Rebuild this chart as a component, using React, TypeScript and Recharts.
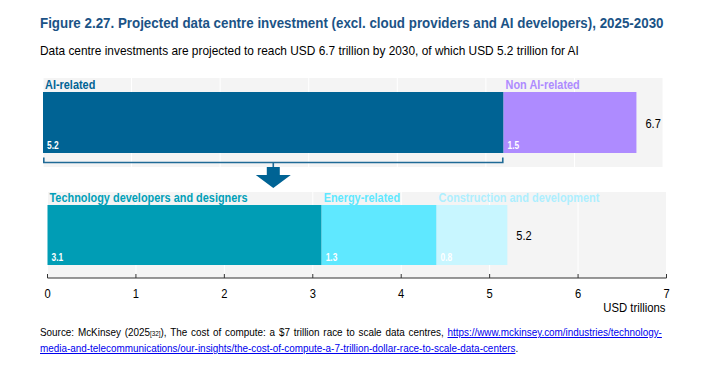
import React from "react";
import { Bar, BarChart, CartesianGrid, XAxis, YAxis } from "recharts";

const xTicks = [0, 1, 2, 3, 4, 5, 6, 7];

const upperSegments = ["AI-related", "Non AI-related"];
const upperKeys = ["ai", "nonAi"];
const upperValues = [5.2, 1.5];
const upperColors = ["#006394", "#ae8bff"];
const upperTotal = 6.7;

const lowerSegments = ["Technology developers and designers", "Energy-related", "Construction and development"];
const lowerKeys = ["tech", "energy", "construction"];
const lowerValues = [3.1, 1.3, 0.8];
const lowerColors = ["#009db5", "#5fe8ff", "#c8f6ff"];
const lowerLabelColors = ["#00a0b8", "#5fe8ff", "#aeefff"];
const lowerTotal = 5.2;

const FONT = '"Liberation Sans", Arial, sans-serif';
const NARROW = 0.84; // Arial Narrow look, squeezed Liberation Sans

const upperRow: Record<string, number | string> = { name: "total" };
upperKeys.forEach((k, i) => (upperRow[k] = upperValues[i]));
const lowerRow: Record<string, number | string> = { name: "ai" };
lowerKeys.forEach((k, i) => (lowerRow[k] = lowerValues[i]));

function NText({ x, y, s = NARROW, anchor = "start", children, ...rest }: any) {
  return (
    <text transform={`translate(${x},${y}) scale(${s},1)`} x={0} y={0} textAnchor={anchor} fontFamily={FONT} {...rest}>
      {children}
    </text>
  );
}

// bracket under the AI-related bar plus the arrow pointing to the breakdown
function Bracket({ x, y, width, height }: any) {
  const by = y + height + 9.5;
  const mid = x + width / 2;
  const c = "#1f6a96";
  return (
    <g>
      <path
        d={`M${x + 0.8},${by - 5} L${x + 0.8},${by} L${x + width - 0.8},${by} L${x + width - 0.8},${by - 5}`}
        fill="none"
        stroke={c}
        strokeWidth={1.6}
      />
      <line x1={mid} y1={by} x2={mid} y2={by + 5} stroke={c} strokeWidth={1.6} />
      <path
        d={`M${mid - 6.5},${by + 4.5} L${mid + 6.5},${by + 4.5} L${mid + 6.5},${by + 12.5} L${mid + 17.5},${by + 12.5} L${mid},${by + 25.5} L${mid - 17.5},${by + 12.5} L${mid - 6.5},${by + 12.5} Z`}
        fill="#006394"
      />
    </g>
  );
}

function segmentLabel(name: string, color: string, value: number, total?: number, bracket?: boolean) {
  return (props: any) => {
    const { x, y, width, height } = props;
    return (
      <g>
        <NText x={x + 2} y={y - 3} fill={color} fontSize={13} fontWeight="bold">
          {name}
        </NText>
        <NText x={x + 4} y={y + height - 4} fill="#ffffff" fontSize={10.5} fontWeight="bold" s={0.8}>
          {value}
        </NText>
        {total !== undefined && (
          <NText x={x + width + 9} y={y + height / 2 + 5} fill="#000" fontSize={13.5} s={0.82}>
            {total}
          </NText>
        )}
        {bracket && <Bracket x={x} y={y} width={width} height={height} />}
      </g>
    );
  };
}

function AxisTick(props: any) {
  const { x, y, payload } = props;
  return (
    <g>
      <line x1={x} y1={y - 4} x2={x} y2={y} stroke="#333" strokeWidth={1} />
      <NText x={x} y={y + 20} anchor="middle" fill="#000" fontSize={13} s={0.86}>
        {payload.value}
      </NText>
    </g>
  );
}

export default function App() {
  return (
    <div style={{ position: "absolute", left: 0, top: 0, width: 712, height: 371, background: "#fff", fontFamily: FONT }}>
      <div
        style={{
          position: "absolute",
          left: 40,
          top: 14,
          fontSize: 15,
          fontWeight: "bold",
          color: "#1b5386",
          whiteSpace: "nowrap",
          transform: "scaleX(0.89)",
          transformOrigin: "0 0",
        }}
      >
        Figure 2.27. Projected data centre investment (excl. cloud providers and AI developers), 2025-2030
      </div>
      <div
        style={{
          position: "absolute",
          left: 40,
          top: 43,
          fontSize: 13.5,
          color: "#000",
          whiteSpace: "nowrap",
          transform: "scaleX(0.88)",
          transformOrigin: "0 0",
        }}
      >
        Data centre investments are projected to reach USD 6.7 trillion by 2030, of which USD 5.2 trillion for AI
      </div>

      <div style={{ position: "absolute", left: 0, top: 70 }}>
        <BarChart
          width={712}
          height={122}
          data={[upperRow]}
          layout="vertical"
          margin={{ top: 8, right: 49, left: 43, bottom: 25 }}
        >
          <CartesianGrid horizontal={false} stroke="#ffffff" fill="#f4f4f4" />
          <XAxis type="number" domain={[0, 7]} ticks={xTicks} hide />
          <YAxis type="category" dataKey="name" hide />
          {upperKeys.map((k, i) => (
            <Bar
              key={k}
              dataKey={k}
              stackId="a"
              fill={upperColors[i]}
              barSize={61}
              isAnimationActive={false}
              label={segmentLabel(
                upperSegments[i],
                upperColors[i],
                upperValues[i],
                i === upperKeys.length - 1 ? upperTotal : undefined,
                i === 0
              )}
            />
          ))}
        </BarChart>
      </div>

      <div style={{ position: "absolute", left: 0, top: 185 }}>
        <BarChart
          width={712}
          height={125}
          data={[lowerRow]}
          layout="vertical"
          margin={{ top: 7, right: 45.5, left: 47.5, bottom: 2 }}
        >
          <CartesianGrid horizontal={false} stroke="#ffffff" fill="#f4f4f4" />
          <XAxis
            type="number"
            domain={[0, 7]}
            ticks={xTicks}
            height={30}
            tickSize={0}
            tickMargin={0}
            tick={<AxisTick />}
            axisLine={{ stroke: "#333", strokeWidth: 1.2 }}
          />
          <YAxis type="category" dataKey="name" hide />
          {lowerKeys.map((k, i) => (
            <Bar
              key={k}
              dataKey={k}
              stackId="a"
              fill={lowerColors[i]}
              barSize={60}
              isAnimationActive={false}
              label={segmentLabel(lowerSegments[i], lowerLabelColors[i], lowerValues[i], i === lowerKeys.length - 1 ? lowerTotal : undefined)}
            />
          ))}
        </BarChart>
      </div>

      <div
        style={{
          position: "absolute",
          right: 46,
          top: 300,
          fontSize: 13,
          color: "#000",
          whiteSpace: "nowrap",
          transform: "scaleX(0.87)",
          transformOrigin: "100% 0",
        }}
      >
        USD trillions
      </div>

      <div
        style={{
          position: "absolute",
          left: 40,
          top: 325,
          width: 691,
          fontSize: 11,
          lineHeight: "15px",
          color: "#000",
          transform: "scaleX(0.9)",
          transformOrigin: "0 0",
        }}
      >
        <div style={{ whiteSpace: "nowrap", textAlign: "justify", textAlignLast: "justify" }}>
          Source: McKinsey (2025<span style={{ fontSize: 7 }}>[32]</span>), The cost of compute: a $7 trillion race to scale data centres,{" "}
          <span style={{ color: "#0000ee", textDecoration: "underline" }}>https://www.mckinsey.com/industries/technology-</span>
        </div>
        <div style={{ whiteSpace: "nowrap" }}>
          <span style={{ color: "#0000ee", textDecoration: "underline" }}>
            media-and-telecommunications/our-insights/the-cost-of-compute-a-7-trillion-dollar-race-to-scale-data-centers
          </span>
          .
        </div>
      </div>
    </div>
  );
}
